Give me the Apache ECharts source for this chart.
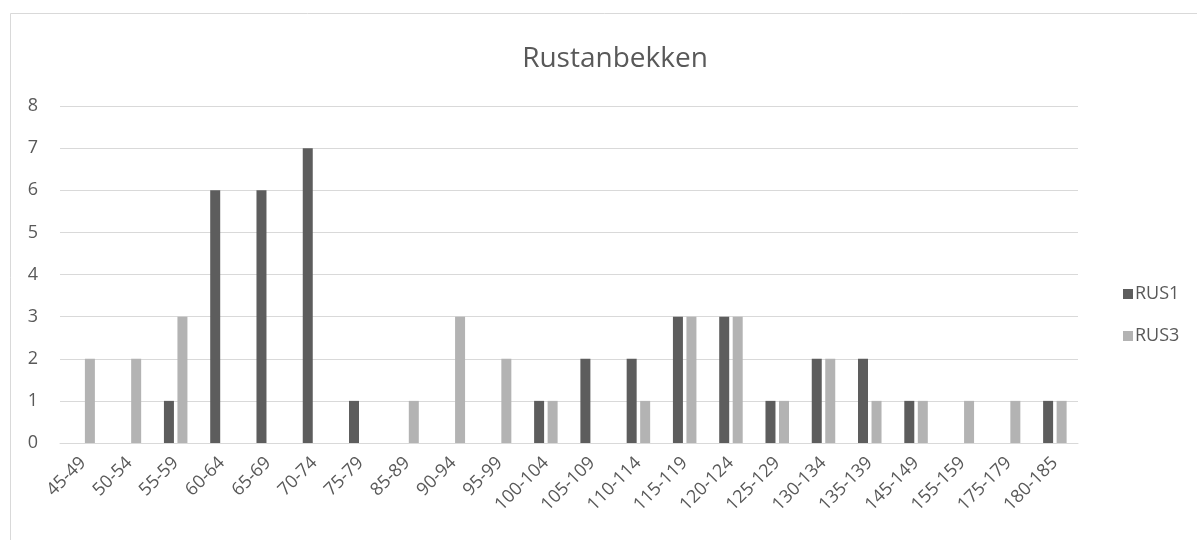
<!DOCTYPE html>
<html>
<head>
<meta charset="utf-8">
<script src="https://cdn.jsdelivr.net/npm/echarts@6/dist/echarts.min.js"></script>
<style>
  html, body { margin: 0; padding: 0; background: #fff; }
  #chart { width: 1197px; height: 540px; }
</style>
</head>
<body>
<div id="chart"></div>
<script>
// Length classes (mm) and fish counts per station
const categories = ['45-49', '50-54', '55-59', '60-64', '65-69', '70-74', '75-79', '85-89', '90-94', '95-99',
  '100-104', '105-109', '110-114', '115-119', '120-124', '125-129', '130-134', '135-139', '145-149',
  '155-159', '175-179', '180-185'];
const rus1 = [0, 0, 1, 6, 6, 7, 1, 0, 0, 0, 1, 2, 2, 3, 3, 1, 2, 2, 1, 0, 0, 1];
const rus3 = [2, 2, 3, 0, 0, 0, 0, 1, 3, 2, 1, 0, 1, 3, 3, 1, 2, 1, 1, 1, 1, 1];
const yTicks = { min: 0, max: 8, interval: 1 };

const textColor = '#595959';
const font = '"Open Sans", "Noto Sans", sans-serif';

const chart = echarts.init(document.getElementById('chart'));
chart.setOption({
  animation: false,
  backgroundColor: '#fff',
  graphic: [{
    type: 'rect',
    shape: { x: 10.5, y: 13.5, width: 1220, height: 600 },
    style: { fill: 'none', stroke: '#d9d9d9', lineWidth: 1 },
    silent: true
  }],
  title: {
    text: 'Rustanbekken',
    left: 610, top: 40, textAlign: 'center',
    textStyle: { color: textColor, fontSize: 28, fontWeight: 'normal', fontFamily: font }
  },
  legend: {
    orient: 'vertical',
    left: 1118, top: 280,
    itemWidth: 10, itemHeight: 10, itemGap: 24,
    icon: 'rect',
    textStyle: { color: textColor, fontSize: 18, fontFamily: font, padding: [0, 0, 0, -3] },
    data: ['RUS1', 'RUS3']
  },
  grid: { left: 60, right: 119, top: 106, bottom: 97, containLabel: false },
  xAxis: {
    type: 'category',
    data: categories,
    axisLine: { lineStyle: { color: '#d9d9d9' } },
    axisTick: { show: false },
    axisLabel: { rotate: 45, color: textColor, fontSize: 18, fontFamily: font, margin: 17, interval: 0 }
  },
  yAxis: {
    type: 'value',
    min: yTicks.min, max: yTicks.max, interval: yTicks.interval,
    axisLine: { show: false },
    axisTick: { show: false },
    splitLine: { lineStyle: { color: '#d9d9d9', width: 1 } },
    axisLabel: { color: textColor, fontSize: 18, fontFamily: font, margin: 22 }
  },
  series: [
    { name: 'RUS1', type: 'bar', data: rus1, barWidth: 10, barGap: '35%',
      itemStyle: { color: '#5d5d5d' } },
    { name: 'RUS3', type: 'bar', data: rus3, barWidth: 10,
      itemStyle: { color: '#b3b3b3' } }
  ]
});
</script>
</body>
</html>
